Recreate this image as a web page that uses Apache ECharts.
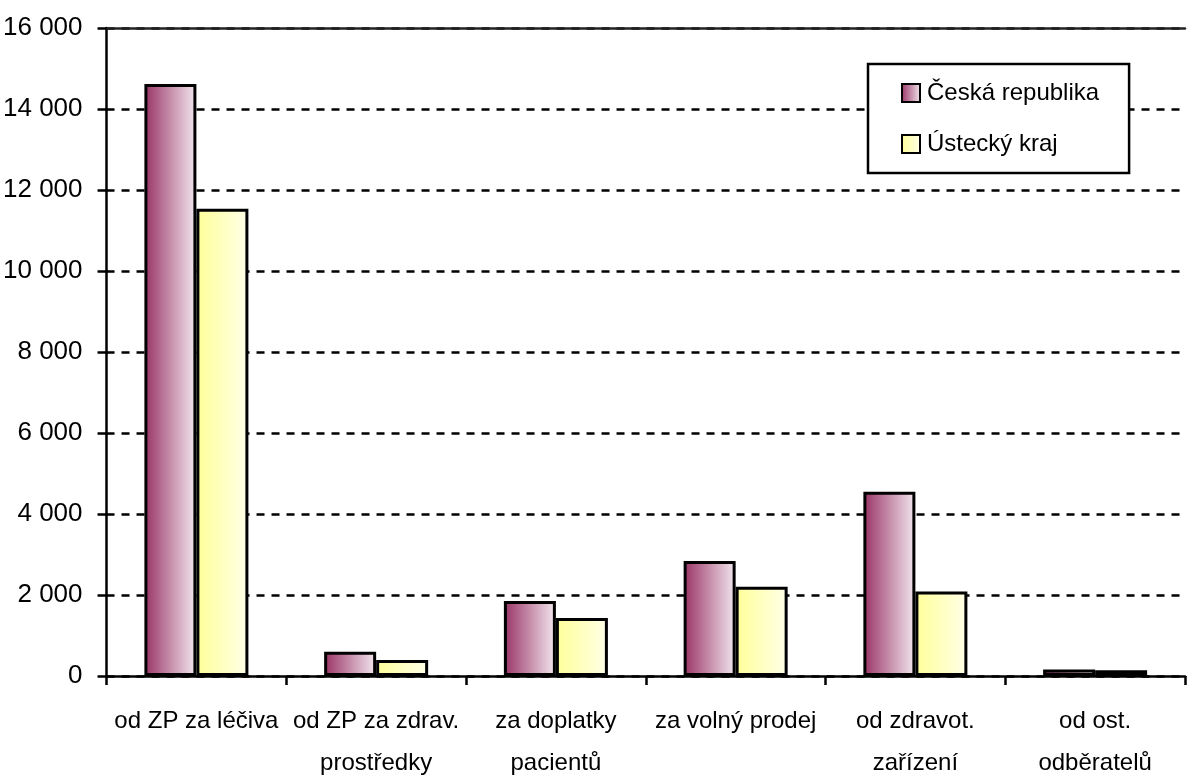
<!DOCTYPE html>
<html>
<head>
<meta charset="utf-8">
<script src="https://cdn.jsdelivr.net/npm/echarts@6/dist/echarts.min.js"></script>
<style>
  html, body { margin: 0; padding: 0; background: #fff; }
  #chart { width: 1190px; height: 784px; }
</style>
</head>
<body>
<div id="chart"></div>
<script>
// kategorie a hodnoty
var categories = [
  "od ZP za léčiva",
  "od ZP za zdrav.\nprostředky",
  "za doplatky\npacientů",
  "za volný prodej",
  "od zdravot.\nzařízení",
  "od ost.\nodběratelů"
];
var seriesNames = ["Česká republika", "Ústecký kraj"];
var valuesCR = [14620, 600, 1850, 2840, 4550, 162];
var valuesUK = [11540, 395, 1435, 2206, 2085, 145];

var fontName = "'Liberation Sans Narrow', 'Arial Narrow', 'Liberation Sans', sans-serif";

function grad(c1, c2) {
  return new echarts.graphic.LinearGradient(0, 0, 1, 0, [
    { offset: 0, color: c1 },
    { offset: 1, color: c2 }
  ]);
}

var chart = echarts.init(document.getElementById("chart"));
var options = {
  animation: false,
  textStyle: { fontFamily: fontName, color: "#000" },
  grid: { left: 105, right: 5, top: 28, bottom: 96 },
  legend: {
    orient: "vertical",
    left: 868,
    top: 64,
    padding: [17, 30, 17, 33],
    itemGap: 27,
    itemWidth: 18,
    itemHeight: 18,
    icon: "rect",
    borderColor: "#000",
    borderWidth: 2.5,
    backgroundColor: "#fff",
    textStyle: { fontSize: 24, fontFamily: fontName, color: "#000", padding: [0, 0, 0, 2] },
    data: seriesNames
  },
  xAxis: [
    {
      type: "category",
      data: categories,
      axisLine: { lineStyle: { color: "#000", width: 2.5 } },
      axisTick: { show: true, length: 9, lineStyle: { color: "#000", width: 2.5 } },
      axisLabel: { fontSize: 24, lineHeight: 42, margin: 24, color: "#000", fontFamily: fontName, interval: 0 }
    },
    {
      // horni okraj grafu
      type: "category",
      position: "top",
      data: categories,
      axisLine: { show: true, lineStyle: { color: "#222", width: 2.5 } },
      axisTick: { show: false },
      axisLabel: { show: false }
    }
  ],
  yAxis: {
    type: "value",
    min: 0,
    max: 16000,
    interval: 2000,
    axisLine: { show: true, lineStyle: { color: "#000", width: 2.5 } },
    axisTick: { show: true, length: 9, lineStyle: { color: "#000", width: 2.5 } },
    axisLabel: {
      fontSize: 26,
      margin: 24,
      color: "#000",
      fontFamily: fontName,
      formatter: function (v) {
        return String(v).replace(/\B(?=(\d{3})+(?!\d))/g, " ");
      }
    },
    splitLine: { show: true, lineStyle: { color: "#000", width: 2.5, type: [8, 7] } }
  },
  series: [
    {
      name: seriesNames[0],
      type: "bar",
      data: valuesCR,
      barWidth: 52,
      barGap: "0%",
      itemStyle: { color: grad("#993366", "#f3e8ef"), borderColor: "#000", borderWidth: 3 }
    },
    {
      name: seriesNames[1],
      type: "bar",
      data: valuesUK,
      barWidth: 52,
      barGap: "0%",
      itemStyle: { color: grad("#ffff99", "#ffffe8"), borderColor: "#000", borderWidth: 3 }
    }
  ]
};
chart.setOption(options);
</script>
</body>
</html>
